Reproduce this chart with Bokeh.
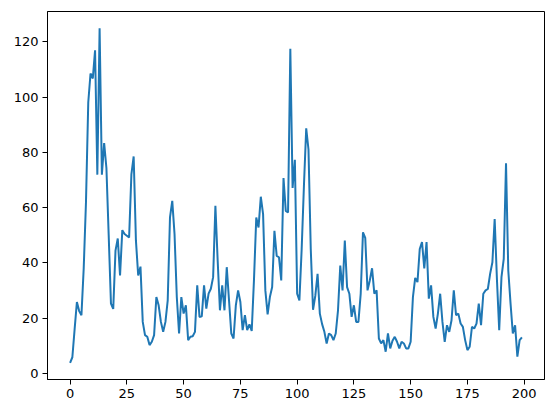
from bokeh.plotting import figure
from bokeh.models import Range1d, FixedTicker
from bokeh.embed import file_html
from bokeh.resources import INLINE

values = [
    3.8, 5.8, 16, 25.8, 22.5, 21, 38, 62, 98, 108.5,
    106.7, 116.9, 71.9, 124.9, 71.9, 83.3, 74.3, 50, 25.2, 23.3,
    44.4, 48.8, 35.4, 51.8, 50.4, 49.8, 49.2, 72, 78.5, 48,
    35.4, 38.6, 18.6, 13.8, 13.2, 10.2, 11.4, 13.8, 27.6, 24.6,
    18.6, 15, 18.6, 26.4, 56.4, 62.4, 50.4, 27.6, 14.4, 27.6,
    21.6, 24.6, 12, 13.2, 13.4, 15, 31.8, 20.4, 20.6, 31.8,
    23.4, 28.8, 30.6, 34.8, 60.6, 40.8, 22.8, 31.8, 22.8, 38.4,
    26.4, 14.4, 12.6, 24.6, 30, 25.8, 15.6, 21, 15.6, 17.7,
    15.3, 34, 56.4, 52.8, 63.9, 57.6, 30, 21.3, 27.6, 31.2,
    51.6, 42.5, 42, 33.6, 70.7, 58.8, 58.2, 117.5, 67.1, 77.3,
    28.8, 26.4, 45, 68, 88.7, 81, 45, 23, 28, 36,
    21.6, 17.8, 15, 10.8, 14.4, 13.8, 12, 14.4, 22.8, 39,
    30, 48, 31.2, 28.8, 20.4, 24.6, 18.6, 18.6, 28.8, 51,
    49, 30, 33.6, 38, 28.8, 30, 12.6, 10.8, 12, 7.8,
    14.4, 9, 11.8, 13.2, 11.4, 9, 11.4, 10.8, 9, 9,
    11.4, 27.6, 34.5, 33, 45, 47.5, 38, 47.5, 27, 31.8,
    20.4, 16.2, 21.6, 28.8, 18.6, 11.4, 17.4, 15, 19.2, 30,
    21, 21.6, 18, 16.8, 12, 8.4, 9.6, 16.8, 16.2, 18,
    25.2, 17.4, 28.8, 30, 30.5, 36, 40.2, 55.8, 34, 15.6,
    34.8, 41.4, 76, 37.2, 25.2, 14.4, 17.4, 6, 12, 13,
]
xs = list(range(len(values)))
x_ticks = [0, 25, 50, 75, 100, 125, 150, 175, 200]
y_ticks = [0, 20, 40, 60, 80, 100, 120]

xmin, xmax = min(xs), max(xs)
ymin, ymax = min(values), max(values)
xm = 0.05 * (xmax - xmin)
ym = 0.05 * (ymax - ymin)

p = figure(width=552, height=413, output_backend="svg", toolbar_location=None,
           x_range=Range1d(xmin - xm, xmax + xm), y_range=Range1d(ymin - ym, ymax + ym),
           min_border_left=47, min_border_right=8, min_border_top=11, min_border_bottom=34)
p.line(xs, values, line_color="#1f77b4", line_width=2)

p.xgrid.visible = False
p.ygrid.visible = False
p.outline_line_color = "black"
p.outline_line_width = 1
p.background_fill_color = "white"
p.border_fill_color = "white"

p.xaxis.ticker = FixedTicker(ticks=x_ticks)
p.yaxis.ticker = FixedTicker(ticks=y_ticks)
for ax in (p.xaxis, p.yaxis):
    ax.major_tick_in = 0
    ax.major_tick_out = 5
    ax.minor_tick_in = 0
    ax.minor_tick_out = 0
    ax.major_label_text_font = "DejaVu Sans"
    ax.major_label_text_font_size = "13px"
    ax.major_label_text_color = "black"
    ax.major_label_standoff = 4
    ax.axis_line_color = "black"
    ax.major_tick_line_color = "black"

open("out.html", "w").write(file_html(p, INLINE))
